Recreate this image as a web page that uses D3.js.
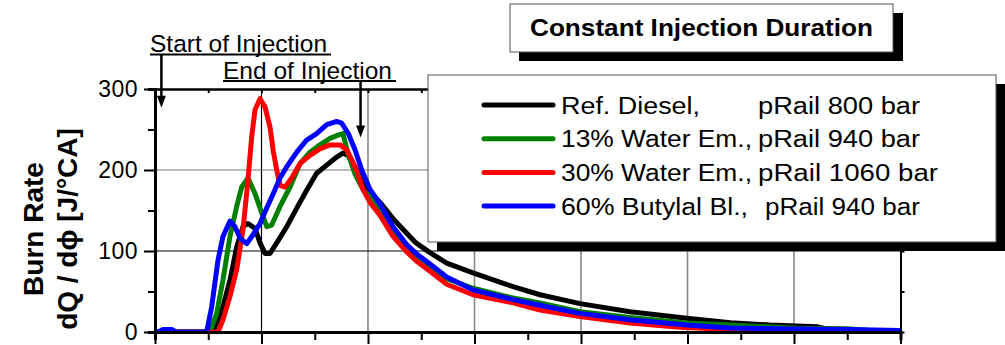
<!DOCTYPE html>
<html>
<head>
<meta charset="UTF-8">
<title>Burn Rate</title>
<script src="https://cdnjs.cloudflare.com/ajax/libs/d3/7.8.5/d3.min.js"></script>
<style>
  body { margin: 0; background: #fff; }
  svg { display: block; font-family: "Liberation Sans", Arial, sans-serif; }
</style>
</head>
<body>
<script>

// crank angle [deg CA] / burn rate [J/deg CA]
var refDiesel = [[-10,0],[-4.55,0],[-3.62,31],[-2.96,64],[-2.33,105],[-1.74,130],[-1.27,134],[-0.61,128],[-0.14,110],[0.33,97],[0.8,97],[1.43,110],[2.37,130],[3.31,153],[4.24,175],[5.18,196],[6.12,206],[7.06,216],[7.65,221],[8.12,218],[8.78,204],[9.41,188],[10.19,173],[11.13,160],[12.35,140],[13.63,122],[14.51,110],[15.82,98],[17.39,85],[19.86,73],[23.62,56],[26.15,46],[29.91,35],[34.6,25],[39.95,17],[44.04,11.5],[47.75,8.6],[52.16,6.6],[53.38,3],[55.26,1.5],[60,1]];
var water13 = [[-10,0],[-4.84,0],[-4.21,23],[-3.62,64],[-2.96,118],[-2.33,155],[-1.86,179],[-1.27,190],[-0.61,171],[0.02,147],[0.49,130],[0.96,132],[1.74,155],[2.68,179],[3.62,208],[4.55,222],[5.49,231],[6.43,239],[7.18,243],[7.65,245],[8.12,220],[8.78,195],[9.53,176],[10.47,162],[11.13,152],[12.35,126],[13.63,105],[14.51,93],[15.82,82],[17.39,66],[19.86,54],[23.62,42],[26.15,36],[29.91,25],[34.6,18],[39.95,11],[44.04,8.6],[50.28,4.5],[54.98,4],[57.14,2],[60,1.5]];
var water30 = [[-10,0],[-4.08,0],[-3.62,15],[-2.96,44],[-2.33,77],[-1.74,126],[-1.27,188],[-0.92,241],[-0.61,274],[-0.14,288],[0.33,278],[0.8,253],[1.11,223],[1.43,200],[1.74,181],[2.21,179],[2.84,190],[3.62,208],[4.55,218],[5.49,226],[6.43,231],[7.37,231],[8.0,225],[8.5,212],[8.97,198],[9.53,176],[10.19,160],[11.13,144],[12.35,118],[13.63,99],[14.51,88],[15.82,75],[17.39,59],[19.86,46],[23.62,36],[26.15,27],[29.91,19],[34.6,11],[39.3,6],[44.3,3],[48.7,1.5],[60,1]];
var butylal60 = [[-10,0],[-9.72,0],[-9.25,3],[-8.4,3],[-8.03,0],[-5.15,0],[-4.68,31],[-4.08,89],[-3.62,118],[-2.96,137],[-2.49,130],[-2.02,116],[-1.39,109],[-0.8,120],[-0.14,134],[0.49,153],[1.11,171],[1.74,190],[2.37,204],[3.31,222],[4.24,237],[5.18,245],[6.12,256],[7.06,260],[7.53,258],[8.15,245],[8.78,225],[9.41,200],[10.19,176],[11.13,158],[12.35,130],[13.63,108],[14.51,97],[15.82,84],[17.39,68],[19.86,52],[23.62,40],[26.15,33],[29.91,23],[34.6,15],[39.95,8.6],[44.04,5],[50.28,3.7],[54.98,3],[60,2]];

var seriesNames = ["Ref. Diesel,", "13% Water Em.,", "30% Water Em.,", "60% Butylal Bl.,"];
var railLabels = ["pRail 800 bar", "pRail 940 bar", "pRail 1060 bar", "pRail 940 bar"];
var seriesColors = ["#000000", "#008000", "#ff0000", "#0000ff"];

var xMajorTicks = [-10, 0, 10, 20, 30, 40, 50, 60];
var xMinorTicks = [-5, 5, 15, 25, 35, 45, 55];
var yMajorTicks = [0, 100, 200, 300];
var yMinorTicks = [50, 150, 250];

var soiDeg = -9.4, eoiDeg = 9.3;   // start / end of injection

var width = 1005, height = 345;

var svg = d3.select("body").append("svg")
    .attr("width", width)
    .attr("height", height);

var x = d3.scaleLinear().domain([-10, 60]).range([155, 900.5]);
var y = d3.scaleLinear().domain([0, 300]).range([332, 89]);

// grid
svg.append("g").selectAll("line")
    .data(xMajorTicks.slice(1, -1))
    .enter().append("line")
    .attr("x1", function(d){ return x(d); })
    .attr("x2", function(d){ return x(d); })
    .attr("y1", y(0)).attr("y2", y(300))
    .attr("stroke", function(d){ return d === 0 ? "#000" : "#888"; })
    .attr("stroke-width", function(d){ return d === 0 ? 1.2 : 1.6; });

svg.append("g").selectAll("line")
    .data([100, 200])
    .enter().append("line")
    .attr("x1", x(-10)).attr("x2", x(60))
    .attr("y1", function(d){ return y(d); })
    .attr("y2", function(d){ return y(d); })
    .attr("stroke", function(d){ return d === 100 ? "#000" : "#777"; })
    .attr("stroke-width", 1.2);

// curves
svg.append("clipPath").attr("id", "plot")
    .append("rect")
    .attr("x", x(-10)).attr("y", y(300))
    .attr("width", x(60) - x(-10)).attr("height", y(0) - y(300));

var line = d3.line()
    .x(function(d){ return x(d[0]); })
    .y(function(d){ return y(d[1]); });

var curves = [refDiesel, water13, water30, butylal60];

svg.append("g").attr("clip-path", "url(#plot)")
    .selectAll("path")
    .data(curves)
    .enter().append("path")
    .attr("d", line)
    .attr("fill", "none")
    .attr("stroke", function(d, i){ return seriesColors[i]; })
    .attr("stroke-width", 5)
    .attr("stroke-linejoin", "round")
    .attr("stroke-linecap", "round");

// axes
function styleAxis(g, w) {
    g.select(".domain").attr("stroke", "#000").attr("stroke-width", w);
    g.selectAll(".tick line").attr("stroke", "#000").attr("stroke-width", 2);
}

svg.append("g")
    .attr("transform", "translate(0," + y(300) + ")")
    .call(d3.axisTop(x).tickValues(xMajorTicks.concat(xMinorTicks)).tickSizeInner(-4).tickSizeOuter(0).tickFormat(""))
    .call(styleAxis, 2.5);

svg.append("g")
    .attr("transform", "translate(" + x(60) + ",0)")
    .call(d3.axisRight(y).tickValues(yMajorTicks.concat(yMinorTicks)).tickSizeInner(4).tickSizeOuter(0).tickFormat(""))
    .call(styleAxis, 2);

svg.append("g")
    .attr("transform", "translate(0," + y(0) + ")")
    .call(d3.axisBottom(x).tickValues(xMinorTicks).tickSize(8).tickFormat(""))
    .call(styleAxis, 3);

svg.append("g")
    .attr("transform", "translate(0," + y(0) + ")")
    .call(d3.axisBottom(x).tickValues(xMajorTicks).tickSizeInner(12).tickSizeOuter(0).tickFormat(""))
    .call(styleAxis, 3);

svg.append("g")
    .attr("transform", "translate(" + x(-10) + ",0)")
    .call(d3.axisLeft(y).tickValues(yMinorTicks).tickSize(7).tickFormat(""))
    .call(styleAxis, 3);

var yAxis = svg.append("g")
    .attr("transform", "translate(" + x(-10) + ",0)")
    .call(d3.axisLeft(y).tickValues(yMajorTicks).tickSizeInner(11).tickSizeOuter(0).tickPadding(6).tickFormat(d3.format("d")))
    .call(styleAxis, 3);

yAxis.selectAll("text")
    .attr("font-size", "23px")
    .attr("fill", "#000")
    .attr("font-family", "'Liberation Sans', Arial, sans-serif")
    .attr("letter-spacing", "0.5px");

// y title
var yTitle = svg.append("g").attr("transform", "rotate(-90)")
    .attr("font-weight", "bold")
    .attr("font-size", "28px")
    .attr("text-anchor", "middle");
yTitle.append("text").attr("x", -229).attr("y", 43).text("Burn Rate");
yTitle.append("text").attr("x", -229).attr("y", 77).text("dQ / d\u03D5 [J/\u00B0CA]");

// title box
svg.append("rect").attr("x", 519).attr("y", 13).attr("width", 384).attr("height", 48).attr("fill", "#000");
svg.append("rect").attr("x", 510).attr("y", 4).attr("width", 383).attr("height", 48)
    .attr("fill", "#fff").attr("stroke", "#555").attr("stroke-width", 1);
svg.append("text")
    .attr("x", 530).attr("y", 36)
    .attr("font-size", "24px").attr("font-weight", "bold")
    .attr("textLength", 343).attr("lengthAdjust", "spacingAndGlyphs")
    .text("Constant Injection Duration");

// legend box
svg.append("rect").attr("x", 437).attr("y", 84).attr("width", 568).attr("height", 167).attr("fill", "#000");
svg.append("rect").attr("x", 428).attr("y", 75).attr("width", 568).attr("height", 167)
    .attr("fill", "#fff").attr("stroke", "#555").attr("stroke-width", 1);

var nameWidths = [139, 191, 191, 187];
var railX = [758, 758, 758, 765];
var railWidths = [162, 162, 180, 155];

var legend = svg.append("g").selectAll("g")
    .data(seriesNames)
    .enter().append("g")
    .attr("transform", function(d, i){ return "translate(0," + (105 + i * 33.7) + ")"; });

legend.append("line")
    .attr("x1", 484).attr("x2", 553)
    .attr("stroke", function(d, i){ return seriesColors[i]; })
    .attr("stroke-width", 5)
    .attr("stroke-linecap", "round");

legend.append("text")
    .attr("x", 561).attr("y", 8.5)
    .attr("font-size", "23px")
    .attr("textLength", function(d, i){ return nameWidths[i]; })
    .attr("lengthAdjust", "spacingAndGlyphs")
    .text(function(d){ return d; });

legend.append("text")
    .attr("x", function(d, i){ return railX[i]; }).attr("y", 8.5)
    .attr("font-size", "23px")
    .attr("textLength", function(d, i){ return railWidths[i]; })
    .attr("lengthAdjust", "spacingAndGlyphs")
    .text(function(d, i){ return railLabels[i]; });

// injection annotations
function arrow(xPos, yFrom, yTip) {
    svg.append("line")
        .attr("x1", xPos).attr("x2", xPos)
        .attr("y1", yFrom).attr("y2", yTip - 8)
        .attr("stroke", "#000").attr("stroke-width", 2.5);
    svg.append("path")
        .attr("d", "M" + (xPos - 4.5) + "," + (yTip - 12) + "L" + (xPos + 4.5) + "," + (yTip - 12) + "L" + xPos + "," + yTip + "Z")
        .attr("fill", "#000");
}

svg.append("text").attr("x", 150).attr("y", 52).attr("font-size", "24.5px").text("Start of Injection");
svg.append("line").attr("x1", 150).attr("x2", 331).attr("y1", 54.5).attr("y2", 54.5)
    .attr("stroke", "#000").attr("stroke-width", 2);
arrow(x(soiDeg), 54.5, y(277));

svg.append("text").attr("x", 223).attr("y", 79).attr("font-size", "24.5px").text("End of Injection");
svg.append("line").attr("x1", 223).attr("x2", 396).attr("y1", 81).attr("y2", 81)
    .attr("stroke", "#000").attr("stroke-width", 2);
arrow(x(eoiDeg), 81, y(240));

</script>
</body>
</html>
